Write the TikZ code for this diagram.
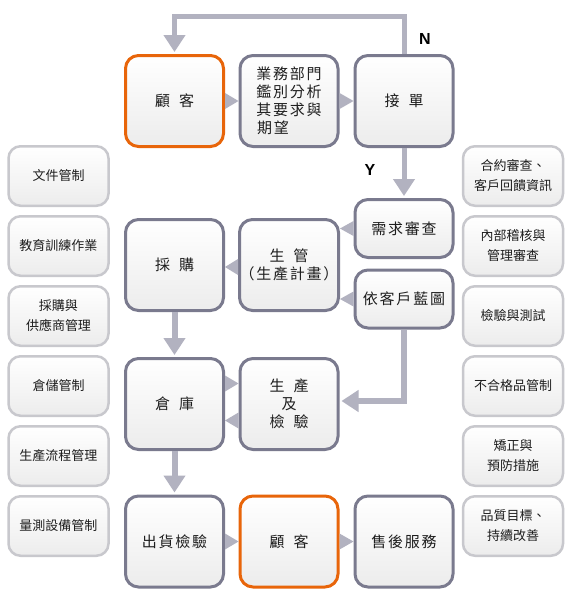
\documentclass[tikz,border=0pt]{standalone}
\usepackage{fontspec}
\setmainfont{Liberation Sans}
\newfontfamily\cjkmain[LetterSpace=12]{Noto Sans CJK TC}
\newfontfamily\cjkside{Noto Sans CJK TC}
\usetikzlibrary{arrows.meta,calc}
\definecolor{mainborder}{RGB}{122,122,142}
\definecolor{orangeborder}{RGB}{232,101,10}
\definecolor{sideborder}{RGB}{200,200,205}
\definecolor{arrowc}{RGB}{178,178,192}
\definecolor{boxbottom}{RGB}{236,236,236}
\definecolor{txt}{RGB}{30,30,30}
\newcommand\gp{\hspace{9pt}}
\tikzset{
  mainbox/.style={draw=mainborder, line width=3pt, rounded corners=13pt,
    top color=white, bottom color=boxbottom, minimum width=98pt,
    minimum height=91pt, inner sep=0pt, align=center, text=txt,
    font=\cjkmain\fontsize{15}{18}\selectfont},
  custbox/.style={mainbox, draw=orangeborder},
  shortbox/.style={mainbox, minimum height=58pt},
  sidebox/.style={draw=sideborder, line width=2.5pt, rounded corners=12pt,
    top color=white, bottom color=boxbottom, minimum width=100pt,
    minimum height=59.5pt, inner sep=0pt, align=center, text=txt,
    font=\cjkside\fontsize{13}{20}\selectfont},
  flow/.style={draw=arrowc, line width=6pt, shorten >=2pt,
    -{Triangle[width=21pt,length=17pt]}},
  tri/.style={fill=arrowc},
  yn/.style={font=\bfseries\fontsize{16}{16}\selectfont, text=black}
}
\begin{document}
\begin{tikzpicture}[x=1pt,y=-1pt]
\useasboundingbox[fill=white] (0,0) rectangle (572,613);

% main boxes
\node[custbox] (cust1) at (174.5,101) {顧\gp 客};
\node[mainbox] (analyze) at (289,101) {業務部門\\鑑別分析\\其要求與\\期望\hphantom{要求}};
\node[mainbox] (accept) at (404,101) {接\gp 單};
\node[shortbox] (req) at (404,228.5) {需求審查};
\node[shortbox] (blue) at (404,299) {依客戶藍圖};
\node[mainbox] (buy) at (174.5,265) {採\gp 購};
\node[mainbox] (plan) at (289,265) {生\gp 管\\（生產計畫）};
\node[mainbox] (store) at (174.5,404) {倉\gp 庫};
\node[mainbox] (prod) at (289,404) {生\gp 產\\及\\檢\gp 驗};
\node[mainbox] (ship) at (174.5,541.5) {出貨檢驗};
\node[custbox] (cust2) at (289,541.5) {顧\gp 客};
\node[mainbox] (service) at (404,541.5) {售後服務};

% side boxes left
\node[sidebox] (l1) at (58.5,176) {文件管制};
\node[sidebox] (l2) at (58.5,246) {教育訓練作業};
\node[sidebox] (l3) at (58.5,316) {採購與\\供應商管理};
\node[sidebox] (l4) at (58.5,386) {倉儲管制};
\node[sidebox] (l5) at (58.5,456) {生產流程管理};
\node[sidebox] (l6) at (58.5,526) {量測設備管制};

% side boxes right
\node[sidebox] (r1) at (513,176) {合約審查、\\客戶回饋資訊};
\node[sidebox] (r2) at (513,246) {內部稽核與\\管理審查};
\node[sidebox] (r3) at (513,316) {檢驗與測試};
\node[sidebox] (r4) at (513,386) {不合格品管制};
\node[sidebox] (r5) at (513,456) {矯正與\\預防措施};
\node[sidebox] (r6) at (513,526) {品質目標、\\持續改善};

% triangle connectors
\fill[tri] ($(cust1.east)+(0,-8)$) -- (analyze.west) -- ($(cust1.east)+(0,8)$) -- cycle;
\fill[tri] ($(analyze.east)+(0,-8)$) -- (accept.west) -- ($(analyze.east)+(0,8)$) -- cycle;
\fill[tri] ($(req.west)+(0,-7.5)$) -- (plan.east |- req.west) -- ($(req.west)+(0,7.5)$) -- cycle;
\fill[tri] ($(blue.west)+(0,-7.5)$) -- (plan.east |- blue.west) -- ($(blue.west)+(0,7.5)$) -- cycle;
\fill[tri] ($(plan.west)+(0,-6)$) -- ($(buy.east)+(0,2)$) -- ($(plan.west)+(0,10)$) -- cycle;
\fill[tri] ($(store.east)+(0,-28.5)$) -- ($(prod.west)+(0,-20.5)$) -- ($(store.east)+(0,-12.5)$) -- cycle;
\fill[tri] ($(prod.west)+(0,8.5)$) -- ($(store.east)+(0,16.5)$) -- ($(prod.west)+(0,24.5)$) -- cycle;
\fill[tri] ($(ship.east)+(0,-8)$) -- (cust2.west) -- ($(ship.east)+(0,8)$) -- cycle;
\fill[tri] ($(cust2.east)+(0,-8)$) -- (service.west) -- ($(cust2.east)+(0,8)$) -- cycle;

% flow arrows
\draw[flow, line width=5pt] (accept.north) -- ++(0,-38) -| (cust1.north);
\draw[flow, line width=5pt] (accept.south) -- (req.north);
\draw[flow] (buy.south) -- (store.north);
\draw[flow] (store.south) -- (ship.north);
\draw[flow] (blue.south) |- ($(prod.east)+(0,-3)$);

% labels
\node[yn] (nlab) at (425,39) {N};
\node[yn] (ylab) at (370,170) {Y};
\end{tikzpicture}
\end{document}
